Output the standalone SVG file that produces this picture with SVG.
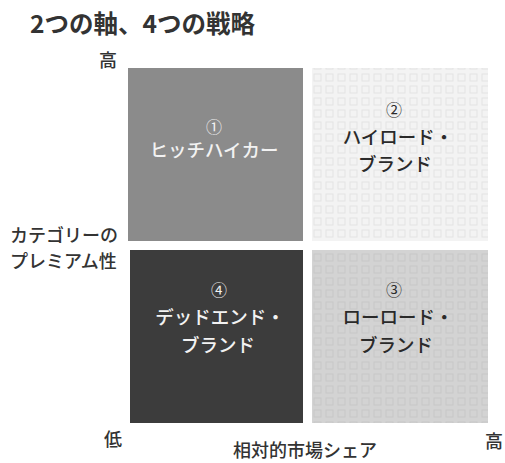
<svg xmlns="http://www.w3.org/2000/svg" width="505" height="463" viewBox="0 0 505 463">
  <defs>
    <pattern id="tex2" width="12" height="12" patternUnits="userSpaceOnUse">
      <rect width="12" height="12" fill="#f3f3f3"/>
      <rect x="2" y="2" width="7" height="7" fill="none" stroke="#e4e4e4" stroke-width="1"/>
    </pattern>
    <pattern id="tex3" width="12" height="12" patternUnits="userSpaceOnUse">
      <rect width="12" height="12" fill="#d3d3d3"/>
      <rect x="2" y="2" width="7" height="7" fill="none" stroke="#c8c8c8" stroke-width="1"/>
    </pattern>
  </defs>
  <style>
    text { font-family: "Noto Sans CJK JP", "Noto Sans", sans-serif; }
    .title { font-size: 24.5px; font-weight: bold; fill: #333; }
    .axis { font-size: 18px; font-weight: 500; fill: #333; }
    .lab { font-size: 18.5px; font-weight: 500; text-anchor: middle; }
    .num { font-size: 16px; text-anchor: middle; }
    .light { fill: #f2f2f2; }
    .dark { fill: #2a2a2a; }
  </style>
  <rect width="505" height="463" fill="#ffffff"/>
  <text class="title" x="30" y="33">2つの軸、4つの戦略</text>

  <g id="axes">
    <text class="axis" x="108" y="67" text-anchor="middle">高</text>
    <text class="axis" x="113" y="446" text-anchor="middle">低</text>
    <text class="axis" x="494" y="448" text-anchor="middle">高</text>
    <text class="axis" x="10" y="242">カテゴリーの</text>
    <text class="axis" x="10" y="268">プレミアム性</text>
    <text class="axis" x="305" y="457" text-anchor="middle">相対的市場シェア</text>
  </g>

  <g id="q1">
    <rect x="128" y="68" width="175" height="173" fill="#8b8b8b"/>
    <text class="num light" x="214" y="133">①</text>
    <text class="lab light" x="214" y="157">ヒッチハイカー</text>
  </g>
  <g id="q2">
    <rect x="312" y="68" width="176" height="173" fill="url(#tex2)"/>
    <text class="num dark" x="394" y="116">②</text>
    <text class="lab dark" x="398" y="144">ハイロード・</text>
    <text class="lab dark" x="395" y="171">ブランド</text>
  </g>
  <g id="q4">
    <rect x="130" y="250" width="173" height="173" fill="#3c3c3c"/>
    <text class="num light" x="219" y="296">④</text>
    <text class="lab light" x="220" y="324">デッドエンド・</text>
    <text class="lab light" x="218" y="352">ブランド</text>
  </g>
  <g id="q3">
    <rect x="312" y="250" width="176" height="173" fill="url(#tex3)"/>
    <text class="num dark" x="394" y="296">③</text>
    <text class="lab dark" x="398" y="324">ローロード・</text>
    <text class="lab dark" x="396" y="352">ブランド</text>
  </g>
  <g id="connectors"></g>
</svg>
